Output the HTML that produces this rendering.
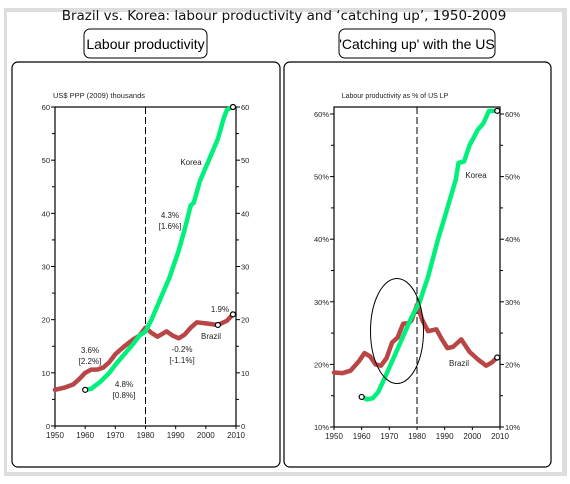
<!DOCTYPE html>
<html><head><meta charset="utf-8"><style>
body{margin:0;width:570px;height:479px;background:#fff;overflow:hidden;font-family:"Liberation Sans",sans-serif}
</style></head><body>
<svg width="570" height="479" xmlns="http://www.w3.org/2000/svg" font-family="Liberation Sans, sans-serif">
<defs><linearGradient id="sh" x1="0" x2="0" y1="0" y2="1"><stop offset="0" stop-color="#ccc"/><stop offset="1" stop-color="#eee"/></linearGradient></defs>
<rect x="4" y="8" width="563" height="468" fill="#ddd"/>
<rect x="7" y="12" width="555" height="460" fill="#fff"/>
<text x="284" y="20" text-anchor="middle" font-family="DejaVu Sans, sans-serif" font-size="13.5" fill="#111">Brazil vs. Korea: labour productivity and ‘catching up’, 1950-2009</text>
<rect x="12" y="62" width="268" height="405" rx="6" fill="#fff" stroke="#000" stroke-width="1.2"/>
<rect x="284" y="62" width="267" height="405" rx="6" fill="#fff" stroke="#000" stroke-width="1.2"/>
<rect x="84" y="29" width="123" height="29" rx="6" fill="#fff" stroke="#000"/>
<text x="145.5" y="49" text-anchor="middle" font-size="14">Labour productivity</text>
<rect x="339" y="29" width="156" height="29" rx="6" fill="#fff" stroke="#000"/>
<text x="417" y="49" text-anchor="middle" font-size="14">'Catching up' with the US</text>
<g id="L"></g><g id="R"></g>
</svg>
<script>
const years = [1950,1960,1970,1980,1990,2000,2010];
const leftTicks = [0,10,20,30,40,50,60];
const rightTicks = [10,20,30,40,50,60];
const brazilLPYears = [1950,1953,1956,1958,1960,1962,1964,1966,1968,1970,1973,1976,1978,1980,1982,1984,1987,1989,1991,1993,1995,1997,2000,2004,2007,2009];
const brazilLP = [6.8,7.2,7.8,8.8,10,10.6,10.6,11,12,13.5,15,16.3,17,18.5,17.5,16.8,17.8,17,16.5,17.2,18.5,19.5,19.3,19,19.8,21];
const koreaLPYears = [1960,1962,1965,1968,1970,1973,1976,1978,1980,1982,1985,1988,1991,1993,1995,1996,1998,2001,2004,2006,2007,2009];
const koreaLP = [6.8,7,8.3,10,11.5,13.5,15.5,17,17.8,20,24,28,33,37,41.5,42,46,50,54,58,59.5,60];
const brazilPctYears = [1950,1953,1956,1959,1961,1963,1965,1967,1969,1971,1973,1975,1977,1978,1980,1982,1984,1987,1989,1991,1993,1996,1999,2002,2005,2007,2009];
const brazilPct = [18.7,18.6,19,20.5,21.8,21.3,20,19.8,21,23.5,24.3,26.5,26.6,27,29.5,27,25.3,25.6,24,22.6,22.8,24,22,20.8,19.8,20.3,21.1];
const koreaPctYears = [1960,1962,1964,1966,1968,1970,1972,1975,1978,1981,1984,1987.6,1990,1992,1994,1995,1997,1999,2002,2004,2006,2009];
const koreaPct = [14.8,14.4,14.6,15.6,17.5,19.5,21.5,24.5,27.5,30,34,40,43.5,46.5,49.5,52.2,52.4,55,57.5,58.5,60.5,60.5];
const NS="http://www.w3.org/2000/svg";
function mk(p,t,a){const e=document.createElementNS(NS,t);for(const k in a)e.setAttribute(k,a[k]);p.appendChild(e);return e;}
function chart(g,o){
 const X=v=>o.x0+(v-1950)/60*(o.x1-o.x0), Y=v=>o.yb+(v-o.vmin)/(o.vmax-o.vmin)*(o.yt-o.yb);
 let e=mk(g,'rect',{x:o.x0,y:o.top,width:o.x1-o.x0,height:Y(o.vmin)-o.top,fill:'none',stroke:'#000','stroke-width':1.2});
 
 e=mk(g,'line',{x1:X(1980),x2:X(1980),y1:o.top,y2:Y(o.vmin),stroke:'#000','stroke-dasharray':'7,3'});
 
 years.forEach(y=>{mk(g,'line',{x1:X(y),x2:X(y),y1:Y(o.vmin),y2:Y(o.vmin)+3,stroke:'#000'});
  e=mk(g,'text',{x:X(y),y:Y(o.vmin)+12,'text-anchor':'middle','font-size':8,fill:'#222'});e.textContent=y;
  });
 o.ticks.forEach((t,i)=>{const y=Y(t);
  mk(g,'line',{x1:o.x0-4,x2:o.x0,y1:y,y2:y,stroke:'#000'});mk(g,'line',{x1:o.x1,x2:o.x1+4,y1:y,y2:y,stroke:'#000'});
  if(i<o.ticks.length-1){const m=Y(t+o.step/2);mk(g,'line',{x1:o.x0-3,x2:o.x0,y1:m,y2:m,stroke:'#000'});mk(g,'line',{x1:o.x1,x2:o.x1+3,y1:m,y2:m,stroke:'#000'});}
  e=mk(g,'text',{x:o.x0-5,y:y+3,'text-anchor':'end','font-size':7.5,fill:'#222'});e.textContent=t+o.suf;
  
  e=mk(g,'text',{x:o.x1+5,y:y+3,'font-size':7.5,fill:'#222'});e.textContent=t+o.suf;
  });
 const line=(xs,vs,c,n)=>{const l=mk(g,'polyline',{points:xs.map((x,i)=>X(x)+','+Y(vs[i])).join(' '),fill:'none',stroke:c,'stroke-width':4.5,'stroke-linejoin':'round','stroke-linecap':'round'});
  };
 line(o.bx,o.bv,'#b84646',o.name+'-brazil-line');line(o.kx,o.kv,'#00f07c',o.name+'-korea-line');
 o.dots.forEach(d=>{const c=mk(g,'circle',{cx:X(d[0]),cy:Y(d[1]),r:2.5,fill:'#fff',stroke:'#000','stroke-width':1.2});
  });
 o.labels.forEach(l=>{const t=mk(g,'text',{x:l[0],y:l[1],'text-anchor':'middle','font-size':l[3]||8,fill:'#222'});t.textContent=l[2];
  });
 return {X,Y};
}
chart(document.getElementById('L'),{name:'left',x0:55,x1:236,top:107,yt:107,yb:426,vmin:0,vmax:60,ticks:leftTicks,step:10,suf:'',
 bx:brazilLPYears,bv:brazilLP,kx:koreaLPYears,kv:koreaLP,
 dots:[[1960,koreaLP[0]],[2009,koreaLP[koreaLP.length-1]],[2004,19],[2009,brazilLP[brazilLP.length-1]]],
 labels:[[99,98,'US$ PPP (2009) thousands',7.5],[191,165,'Korea'],[170,218,'4.3%'],[170,229,'[1.6%]'],[90,113+240,'3.6%'],[90,124+240,'[2.2%]'],
 [124,387,'4.8%'],[124,398,'[0.8%]'],[182,352,'-0.2%'],[182,363,'[-1.1%]'],[220,312,'1.9%'],[211,339,'Brazil']]});
const r=chart(document.getElementById('R'),{name:'right',x0:334,x1:500,top:107,yt:114,yb:427,vmin:10,vmax:60,ticks:rightTicks,step:10,suf:'%',
 bx:brazilPctYears,bv:brazilPct,kx:koreaPctYears,kv:koreaPct,
 dots:[[1960,koreaPct[0]],[2009,koreaPct[koreaPct.length-1]],[2009,brazilPct[brazilPct.length-1]]],
 labels:[[395,98,'Labour productivity as % of US LP',7],[476,178,'Korea'],[459,366,'Brazil']]});
const el=mk(document.getElementById('R'),'ellipse',{cx:397,cy:331,rx:26.5,ry:52.5,fill:'none',stroke:'#000','stroke-width':1});


</script>
</body></html>
